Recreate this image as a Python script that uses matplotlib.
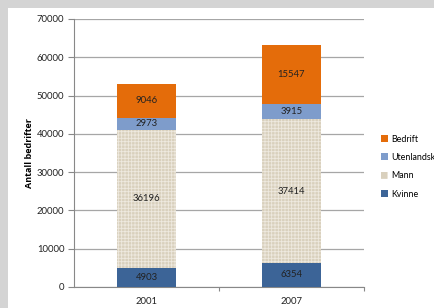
import matplotlib
matplotlib.use("Agg")
import matplotlib.pyplot as plt
from matplotlib.patches import Rectangle, Patch
import numpy as np

categories = ["2001", "2007"]
kvinne = [4903, 6354]
mann = [36196, 37414]
utenlandsk = [2973, 3915]
bedrift = [9046, 15547]
series_names = ["Kvinne", "Mann", "Utenlandsk", "Bedrift"]
yticks = [0, 10000, 20000, 30000, 40000, 50000, 60000, 70000]

colors = {"Kvinne": "#3C6497", "Mann": "#D9D0BD", "Utenlandsk": "#7E9CCB", "Bedrift": "#E46C0A"}
hatch_col = "#EEE9DF"

W, H = 434, 308
fig = plt.figure(figsize=(W / 100, H / 100), dpi=100)
fig.patch.set_facecolor("#D4D4D4")
# white panel
fig.patches.append(Rectangle((8 / W, 0), 1 - 8 / W, 1 - 8 / H, transform=fig.transFigure,
                             facecolor="white", edgecolor="none", zorder=-5))

font = "Lato"
fs = 6.8
ax = fig.add_axes([74 / W, 1 - 287 / H, (364 - 74) / W, (287 - 19) / H])
ax.set_zorder(2)
ax.patch.set_alpha(0)
x = np.arange(len(categories))
bw = 0.41
series = [kvinne, mann, utenlandsk, bedrift]
bottom = np.zeros(len(categories))
plt.rcParams["hatch.linewidth"] = 0.6
for name, vals in zip(series_names, series):
    vals = np.array(vals, dtype=float)
    if name == "Mann":
        ax.bar(x, vals, bw, bottom=bottom, color=colors[name], edgecolor=hatch_col,
               hatch="+++++", linewidth=0, zorder=3)
    else:
        ax.bar(x, vals, bw, bottom=bottom, color=colors[name], linewidth=0, zorder=3)
    for xi, v, b in zip(x, vals, bottom):
        ax.text(xi, b + v / 2, f"{int(v)}", ha="center", va="center", fontsize=fs,
                color="#222222", family=font, zorder=4)
    bottom += vals

ax.set_xlim(-0.5, 1.5)
ax.set_ylim(0, 70000)
ax.set_yticks(yticks)
ax.set_yticklabels([str(t) for t in yticks], fontsize=fs, family=font, color="#222222")
ax.set_xticks(x)
ax.set_xticklabels(categories, fontsize=fs, family=font, color="#222222")
ax.tick_params(axis="x", length=0, pad=7)
ax.tick_params(axis="y", length=4, color="#888888", width=0.8, pad=3)
ax.set_xticks([0.5, 1.5], minor=True)
ax.tick_params(axis="x", which="minor", length=3, color="#888888", width=0.8)
ax.grid(axis="y", color="#A6A6A6", linewidth=0.9, zorder=0)
for s in ["top", "right"]:
    ax.spines[s].set_visible(False)
ax.spines["left"].set_color("#888888")
ax.spines["bottom"].set_color("#888888")
ax.spines["left"].set_linewidth(0.8)
ax.spines["bottom"].set_linewidth(0.8)
ax.set_ylabel("Antall bedrifter", fontsize=6.5, fontweight="bold", family="Open Sans", labelpad=2)

handles = []
for name in reversed(series_names):
    if name == "Mann":
        handles.append(Patch(facecolor=colors[name], edgecolor=hatch_col, hatch="++", linewidth=0))
    else:
        handles.append(Patch(facecolor=colors[name], linewidth=0))
leg = fig.legend(handles, list(reversed(series_names)), loc="upper left",
                 bbox_to_anchor=(377 / W, 1 - 131 / H), frameon=False,
                 prop={"family": font, "size": 6.4}, handlelength=0.8, handleheight=0.8,
                 handletextpad=0.35, labelspacing=1.05, borderaxespad=0)

fig.savefig("out.png", dpi=100, facecolor=fig.get_facecolor())
